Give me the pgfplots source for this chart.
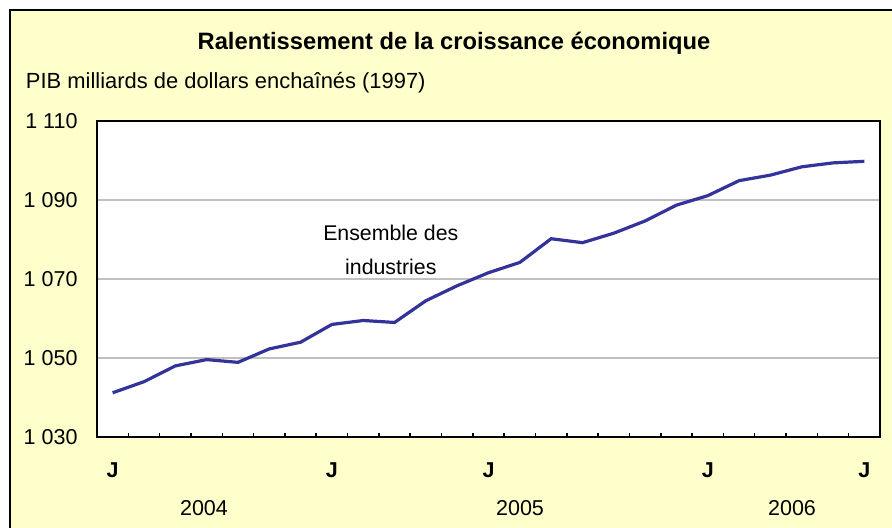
\documentclass[border=0pt]{standalone}
\usepackage{pgfplots}
\pgfplotsset{compat=1.18}
\usepackage{fontspec}
\setmainfont{Liberation Sans}
\definecolor{bgy}{HTML}{FFFFCC}
\definecolor{ln}{HTML}{333399}
\definecolor{gr}{HTML}{C0C0C0}
\begin{document}
\begin{tikzpicture}[x=1bp,y=1bp]
\useasboundingbox (0,0) rectangle (446,263.5);
\fill[bgy] (5,-5) rectangle (460,258.5);
\draw[black, line width=0.75bp] (5,-5) -- (5,258.5) -- (460,258.5);
\begin{axis}[
  at={(48.5bp,45bp)}, anchor=south west, scale only axis,
  width=391.5bp, height=158bp,
  xmin=-0.5, xmax=24.5, ymin=1030, ymax=1110,
  axis background/.style={fill=white},
  axis line style={black, line width=0.9bp},
  ytick={1030,1050,1070,1090,1110},
  yticklabels={1~030,1~050,1~070,1~090,1~110},
  ymajorgrids, grid style={gr, line width=0.6bp},
  ytick style={draw=none},
  xtick={0,7,12,19,24},
  xticklabels={\textbf{J},\textbf{J},\textbf{J},\textbf{J},\textbf{J}},
  minor xtick={-0.5,0.5,...,24.5},
  major tick length=0pt,
  minor tick length=2bp,
  xtick style={black, line width=0.75bp},
  tick align=inside,
  xtick pos=bottom, ytick pos=left,
  ticklabel style={font=\fontsize{10.8}{13}\selectfont},
  yticklabel style={xshift=-6.2bp},
  xticklabel style={yshift=-9.4bp},
  clip=false,
]
\addplot[ln, line width=1.6bp, mark=none] coordinates {
 (0,1041.2) (1,1044.0) (2,1048.0) (3,1049.6) (4,1048.9) (5,1052.3)
 (6,1054.0) (7,1058.5) (8,1059.5) (9,1059.0) (10,1064.5) (11,1068.3)
 (12,1071.6) (13,1074.2) (14,1080.2) (15,1079.2) (16,1081.6) (17,1084.7)
 (18,1088.7) (19,1091.1) (20,1094.9) (21,1096.3) (22,1098.4) (23,1099.4)
 (24,1099.8)
};
\end{axis}
\node[anchor=base, font=\fontsize{11.9}{14}\selectfont\bfseries, inner sep=0] at (227,239) {Ralentissement de la croissance économique};
\node[anchor=base west, font=\fontsize{11}{13}\selectfont, inner sep=0] at (12.8,219.5) {PIB milliards de dollars enchaînés (1997)};
\node[anchor=base, font=\fontsize{10.7}{13}\selectfont, inner sep=0] at (195.4,143.5) {Ensemble des};
\node[anchor=base, font=\fontsize{10.7}{13}\selectfont, inner sep=0] at (195.4,126.5) {industries};
\node[font=\fontsize{10.8}{13}\selectfont, inner sep=0] at (102,9.5) {2004};
\node[font=\fontsize{10.8}{13}\selectfont, inner sep=0] at (260,9.5) {2005};
\node[font=\fontsize{10.8}{13}\selectfont, inner sep=0] at (396,9.5) {2006};
\end{tikzpicture}
\end{document}
